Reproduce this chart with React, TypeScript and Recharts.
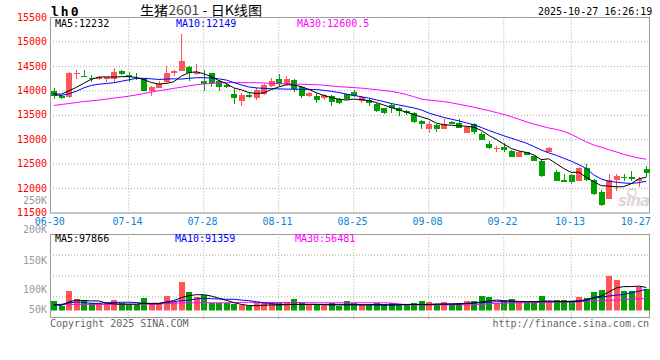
import React from "react";
import { ComposedChart, Bar, Line, XAxis, YAxis, CartesianGrid, ReferenceLine } from "recharts";

// trading days shown on the chart (MM-DD)
const dates = [
  "06-30",
  "07-01", "07-02", "07-03", "07-04", "07-07", "07-08", "07-09", "07-10", "07-11",
  "07-14", "07-15", "07-16", "07-17", "07-18", "07-21", "07-22", "07-23", "07-24", "07-25",
  "07-28", "07-29", "07-30", "07-31", "08-01", "08-04", "08-05", "08-06", "08-07", "08-08",
  "08-11", "08-12", "08-13", "08-14", "08-15", "08-18", "08-19", "08-20", "08-21", "08-22",
  "08-25", "08-26", "08-27", "08-28", "08-29", "09-01", "09-02", "09-03", "09-04", "09-05",
  "09-08", "09-09", "09-10", "09-11", "09-12", "09-15", "09-16", "09-17", "09-18", "09-19",
  "09-22", "09-23", "09-24", "09-25", "09-26", "09-29", "09-30", "10-09", "10-10",
  "10-13", "10-14", "10-15", "10-16", "10-17", "10-20", "10-21", "10-22", "10-23", "10-24",
  "10-27",
];

const open = [
  14000, 13900, 13875, 14335, 14312, 14258, 14240, 14235, 14245, 14408,
  14315, 14270, 14255, 13996, 14064, 14175, 14371, 14405, 14480, 14350,
  14200, 14355, 14195, 14120, 13928, 13793, 13912, 13855, 13935, 14105,
  14234, 14140, 14214, 14070, 13894, 13894, 13855, 13900, 13826, 13935,
  13970, 13792, 13812, 13724, 13642, 13707, 13640, 13588, 13554, 13384,
  13214, 13300, 13214, 13365, 13340, 13132, 13330, 13112, 12908, 12800,
  12853, 12772, 12656, 12738, 12670, 12568, 12755, 12330, 12180, 12275,
  12160, 12418, 12180, 11935, 11795, 12165, 12241, 12228, 12160, 12405,
];
const high = [
  14050, 13920, 14375, 14435, 14435, 14315, 14305, 14280, 14460, 14420,
  14375, 14372, 14268, 14098, 14200, 14515, 14420, 15153, 14507, 14554,
  14418, 14357, 14214, 14160, 14030, 13955, 13949, 14064, 14132, 14252,
  14337, 14303, 14234, 14098, 13976, 13962, 13928, 13908, 13847, 13942,
  14017, 13894, 13826, 13745, 13656, 13745, 13670, 13602, 13568, 13398,
  13384, 13330, 13418, 13384, 13418, 13282, 13350, 13166, 12976, 12874,
  12942, 12785, 12772, 12751, 12683, 12602, 12853, 12377, 12296, 12296,
  12432, 12500, 12194, 11969, 12296, 12296, 12296, 12364, 12228, 12466,
];
const low = [
  13830, 13830, 13860, 14240, 14278, 14190, 14215, 14185, 14170, 14320,
  14180, 14228, 13996, 13894, 14064, 14166, 14303, 14405, 14208, 14323,
  14005, 14072, 13996, 14064, 13724, 13690, 13860, 13813, 13908, 14078,
  14098, 14098, 13976, 13860, 13881, 13745, 13806, 13690, 13724, 13813,
  13874, 13758, 13690, 13575, 13520, 13554, 13486, 13507, 13336, 13214,
  13132, 13166, 13214, 13316, 13234, 13132, 13112, 12996, 12806, 12758,
  12758, 12656, 12649, 12683, 12568, 12241, 12738, 12146, 12126, 12091,
  12160, 12160, 11874, 11649, 11795, 11955, 12160, 12160, 12024, 12241,
];
const close = [
  13900, 13860, 14357, 14370, 14292, 14235, 14289, 14275, 14380, 14347,
  14285, 14248, 13996, 14078, 14146, 14371, 14405, 14605, 14355, 14391,
  14146, 14150, 14080, 14078, 13845, 13912, 13874, 14012, 14112, 14195,
  14140, 14234, 14030, 13894, 13962, 13806, 13920, 13772, 13742, 13833,
  13900, 13870, 13750, 13580, 13537, 13640, 13588, 13537, 13356, 13330,
  13320, 13214, 13316, 13330, 13240, 13262, 13160, 12996, 12826, 12820,
  12785, 12656, 12751, 12690, 12568, 12265, 12840, 12160, 12143, 12139,
  12418, 12180, 11887, 11667, 12173, 12255, 12214, 12194, 12194, 12320,
];

const ma5 = [
  13940, 13930, 14000, 14070, 14155, 14235, 14280, 14285, 14280, 14290,
  14290, 14275, 14230, 14170, 14140, 14150, 14185, 14300, 14370, 14390,
  14350, 14290, 14210, 14150, 14060, 14020, 13965, 13945, 13960, 14025,
  14080, 14125, 14120, 14085, 14030, 13960, 13905, 13860, 13830, 13810,
  13830, 13820, 13800, 13760, 13710, 13655, 13610, 13565, 13515, 13465,
  13420, 13340, 13305, 13295, 13285, 13275, 13255, 13190, 13090, 13005,
  12910, 12820, 12770, 12740, 12690, 12590, 12610, 12510, 12410, 12330,
  12335, 12230, 12140, 12060, 12050, 12035, 12040, 12100, 12200, 12232,
];
const ma10 = [
  13915, 13905, 13940, 13990, 14060, 14110, 14135, 14150, 14165, 14195,
  14225, 14255, 14255, 14245, 14232, 14240, 14245, 14240, 14255, 14268,
  14268, 14262, 14245, 14220, 14170, 14120, 14080, 14060, 14050, 14044,
  14040, 14035, 14032, 14030, 14030, 14025, 14010, 13990, 13965, 13935,
  13905, 13880, 13850, 13815, 13780, 13740, 13710, 13680, 13650, 13610,
  13545, 13500, 13455, 13420, 13385, 13345, 13305, 13250, 13190, 13135,
  13080, 13030, 12980, 12930, 12860, 12790, 12730, 12680, 12620, 12560,
  12490, 12410, 12280, 12195, 12150, 12130, 12115, 12105, 12120, 12149,
];
const ma30 = [
  13700, 13720, 13740, 13760, 13780, 13795, 13810, 13830, 13850, 13870,
  13890, 13915, 13945, 13975, 14000, 14025, 14050, 14075, 14100, 14125,
  14140, 14150, 14160, 14165, 14167, 14167, 14167, 14165, 14160, 14152,
  14146, 14143, 14140, 14135, 14130, 14125, 14115, 14100, 14085, 14075,
  14065, 14055, 14040, 14025, 14005, 13990, 13960, 13925, 13880, 13830,
  13810, 13795, 13780, 13755, 13725, 13695, 13665, 13630, 13595, 13555,
  13515, 13470, 13420, 13365, 13320, 13280, 13240, 13210, 13170, 13110,
  13030, 12955, 12890, 12845, 12795, 12750, 12700, 12660, 12625, 12600,
];

// volume in thousands of lots
const volume = [
  48.7, 30.2, 85.8, 55.0, 51.3, 39.1, 39.1, 39.1, 51.3, 39.1,
  35.4, 35.4, 59.8, 39.1, 39.1, 67.3, 45.0, 119.2, 81.0, 61.3,
  69.9, 41.3, 41.3, 41.3, 36.5, 32.8, 30.2, 41.3, 41.3, 39.1,
  41.3, 41.3, 55.0, 41.3, 32.8, 35.4, 32.8, 39.1, 30.2, 47.6,
  39.1, 35.4, 32.8, 39.1, 35.4, 41.3, 32.8, 35.4, 39.1, 47.6,
  43.9, 32.8, 43.9, 35.4, 39.1, 47.6, 47.6, 67.3, 61.3, 41.3,
  47.6, 53.9, 43.9, 39.1, 39.1, 67.3, 43.9, 51.3, 51.3, 45.0,
  61.3, 57.6, 82.1, 88.4, 141.4, 125.5, 85.8, 85.8, 98.4, 92.1,
];
const volMa5 = [
  34, 31, 44, 51, 49, 48, 48, 40, 37, 36,
  36, 36, 39, 39, 39, 44, 49, 60, 67, 71,
  71, 66, 58, 50, 42, 35, 31, 30, 32, 33,
  33, 34, 35, 35, 35, 35, 34, 33, 33, 33,
  33, 33, 34, 35, 34, 33, 34, 35, 35, 34,
  34, 36, 36, 36, 36, 38, 40, 44, 48, 51,
  49, 48, 46, 45, 45, 46, 48, 46, 45, 45,
  46, 51, 61, 66, 81, 96, 101, 101, 103, 97.9,
];
const volMa10 = [
  33, 35, 40, 44, 42, 39, 39, 41, 42, 43,
  43, 42, 39, 37, 37, 42, 45, 49, 51, 55,
  58, 56, 55, 54, 54, 51, 49, 45, 41, 38,
  35, 35, 35, 35, 35, 35, 35, 35, 35, 35,
  35, 34, 33, 32, 32, 32, 33, 34, 35, 35,
  35, 36, 36, 37, 38, 39, 40, 41, 43, 45,
  45, 45, 45, 45, 45, 45, 45, 45, 45, 47,
  49, 52, 57, 62, 66, 69, 72, 78, 84, 91.4,
];
const volMa30 = [
  35, 35, 35, 35, 35, 35, 35, 35, 35, 35,
  35, 35, 36, 36, 37, 38, 39, 41, 41, 41,
  41, 41, 41, 41, 41, 42, 43, 42, 42, 42,
  42, 42, 42, 42, 41, 41, 41, 41, 41, 41,
  41, 41, 41, 41, 41, 40, 37, 34, 33, 33,
  33, 33, 33, 33, 33, 33, 33, 35, 37, 39,
  40, 40, 41, 41, 42, 42, 43, 43, 43, 44,
  45, 46, 48, 49, 50, 51, 53, 54, 56, 57,
];

const priceTicks = [11500, 12000, 12500, 13000, 13500, 14000, 14500, 15000, 15500];
const dateTicks = ["06-30", "07-14", "07-28", "08-11", "08-25", "09-08", "09-22", "10-13", "10-27"];
const gridDates = dateTicks.slice(1, -1);
const volTickLabels = ["250K", "200K", "150K", "100K", "50K"];

const RED = "#FF5555";
const GREEN = "#00A000";
const GRID = "#A8A8A8";
const FRAME = "#999999";
const AXIS_BLUE = "#0A84D6";
const MONO = "'DejaVu Sans Mono', monospace";

const rows = dates.map((d, i) => ({
  date: d,
  open: open[i],
  high: high[i],
  low: low[i],
  close: close[i],
  ma5: ma5[i],
  ma10: ma10[i],
  ma30: ma30[i],
  vol: volume[i] * 1000,
  vma5: volMa5[i] * 1000,
  vma10: volMa10[i] * 1000,
  vma30: volMa30[i] * 1000,
}));

function Candle(props: any) {
  const { x, y, width, height, payload } = props;
  const top = Math.min(y, y + height);
  const h = Math.abs(height);
  const k = h / (payload.high - payload.low);
  const py = (v: number) => top + (payload.high - v) * k;
  const cx = x + width / 2;
  const color = payload.close >= payload.open ? RED : GREEN;
  const bTop = py(Math.max(payload.open, payload.close));
  const bH = Math.max(1, py(Math.min(payload.open, payload.close)) - bTop);
  return (
    <g shapeRendering="crispEdges">
      <rect x={Math.floor(cx)} y={top} width={1} height={Math.max(1, h)} fill={color} />
      <rect x={Math.round(cx - 3)} y={bTop} width={6} height={bH} fill={color} />
    </g>
  );
}

function VolBar(props: any) {
  const { x, y, width, height, payload } = props;
  const fill = payload.close >= payload.open ? RED : GREEN;
  return <rect x={Math.round(x + width / 2 - 3)} y={y} width={6} height={height} fill={fill} shapeRendering="crispEdges" />;
}

function PriceTick(props: any) {
  const { x, y, payload } = props;
  return (
    <text x={x} y={y} dy={3.2} textAnchor="end" fill="#FF0000" fontSize={10} fontFamily={MONO}>
      {payload.value}
    </text>
  );
}

function DateTick(props: any) {
  const { x, y, payload } = props;
  const v = payload.value;
  const shift = v === dateTicks[0] ? -4 : v === dateTicks[dateTicks.length - 1] ? -10.5 : -1.3;
  return (
    <text x={x + shift} y={y} dy={11.8} textAnchor="middle" fill={AXIS_BLUE} fontSize={10} fontFamily={MONO}>
      {v}
    </text>
  );
}

export default function App() {
  return (
    <div style={{ position: "absolute", left: 0, top: 0, width: 660, height: 360, background: "#fff", overflow: "hidden" }}>
      {/* frames, headers and labels */}
      <svg width={660} height={360} style={{ position: "absolute", left: 0, top: 0 }} fontFamily={MONO} fontSize={10}>
        <text x={51} y={16} fontSize={13} fontWeight="bold" letterSpacing={2} fill="#000">lh0</text>
        <text x={140} y={15} fontSize={13} fontFamily="'Noto Sans CJK SC', sans-serif" fill="#000" textLength={122} lengthAdjust="spacingAndGlyphs">
          生猪<tspan fill="#444">2601</tspan> - 日K线图
        </text>
        <text x={538} y={15} fill="#000">2025-10-27 16:26:19</text>

        <text x={618} y={206} fontSize={15} fontWeight="bold" fontStyle="italic" fontFamily="'DejaVu Sans', sans-serif" fill="#E2D6D6" textLength={32}>sina</text>
        <circle cx={632} cy={193} r={4} fill="none" stroke="#E8CCCC" strokeWidth={1.5} />

        <rect x={50.5} y={17.5} width={599} height={195.5} fill="none" stroke={FRAME} />
        <rect x={50.5} y={234.5} width={599} height={83} fill="none" stroke={FRAME} />

        <text x={55} y={26.5} fill="#000">MA5:12232</text>
        <text x={176} y={26.5} fill="#0000FF">MA10:12149</text>
        <text x={297} y={26.5} fill="#FF00FF">MA30:12600.5</text>

        <text x={55} y={242} fill="#000">MA5:97866</text>
        <text x={175} y={242} fill="#0000FF">MA10:91359</text>
        <text x={295} y={242} fill="#FF00FF">MA30:56481</text>

        {volTickLabels.map((t, i) => (
          <text key={t} x={47} y={[203.5, 233.3, 264, 293.3, 313.3][i]} textAnchor="end" fill="#999">{t}</text>
        ))}

        <text x={50} y={327} fill="#666">Copyright 2025 SINA.COM</text>
        <text x={649} y={327} textAnchor="end" fill="#666">http://finance.sina.com.cn</text>
      </svg>

      {/* price panel */}
      <div style={{ position: "absolute", left: 0, top: 0 }}>
        <ComposedChart width={660} height={233} data={rows} margin={{ top: 17.5, right: 10, bottom: 0, left: 0 }}>
          <CartesianGrid vertical={false} stroke={GRID} strokeDasharray="1 2" />
          <XAxis
            dataKey="date"
            ticks={dateTicks}
            interval={0}
            height={20}
            tickSize={0}
            tickMargin={0}
            axisLine={false}
            tickLine={false}
            tick={<DateTick />}
          />
          <YAxis
            domain={[11500, 15500]}
            ticks={priceTicks}
            interval={0}
            width={50}
            tickSize={0}
            tickMargin={3}
            axisLine={false}
            tickLine={false}
            tick={<PriceTick />}
            allowDataOverflow
          />
          {gridDates.map((d) => (
            <ReferenceLine
              key={d}
              segment={[{ x: d, y: 15500 }, { x: d, y: 11459 }]}
              stroke={GRID}
              strokeDasharray="1 2"
              ifOverflow="visible"
            />
          ))}
          <Line dataKey="ma30" stroke="#FF00FF" strokeWidth={1} dot={false} isAnimationActive={false} />
          <Line dataKey="ma10" stroke="#0000FF" strokeWidth={1} dot={false} isAnimationActive={false} />
          <Line dataKey="ma5" stroke="#000000" strokeWidth={1} dot={false} isAnimationActive={false} />
          <Bar dataKey={(d: any) => [d.low, d.high]} barSize={6} shape={<Candle />} isAnimationActive={false} />
        </ComposedChart>
      </div>

      {/* volume panel */}
      <div style={{ position: "absolute", left: 0, top: 226 }}>
        <ComposedChart width={660} height={94} data={rows} margin={{ top: 8.3, right: 10, bottom: 9.4, left: 50 }}>
          <CartesianGrid
            vertical={false}
            stroke={GRID}
            strokeDasharray="1 2"
            horizontalCoordinatesGenerator={(p: any) =>
              [1, 2, 3].map((k) => p.offset.top + (k * (p.offset.height + 7.1)) / 4)
            }
          />
          <XAxis dataKey="date" hide />
          <YAxis domain={[12000, 295000]} hide allowDataOverflow />
          {gridDates.map((d) => (
            <ReferenceLine
              key={d}
              segment={[{ x: d, y: 295000 }, { x: d, y: -23000 }]}
              stroke={GRID}
              strokeDasharray="1 2"
              ifOverflow="visible"
            />
          ))}
          <Bar dataKey="vol" barSize={6} shape={<VolBar />} isAnimationActive={false} />
          <Line dataKey="vma30" stroke="#FF00FF" strokeWidth={1} dot={false} isAnimationActive={false} />
          <Line dataKey="vma10" stroke="#0000FF" strokeWidth={1} dot={false} isAnimationActive={false} />
          <Line dataKey="vma5" stroke="#000000" strokeWidth={1} dot={false} isAnimationActive={false} />
        </ComposedChart>
      </div>
    </div>
  );
}
